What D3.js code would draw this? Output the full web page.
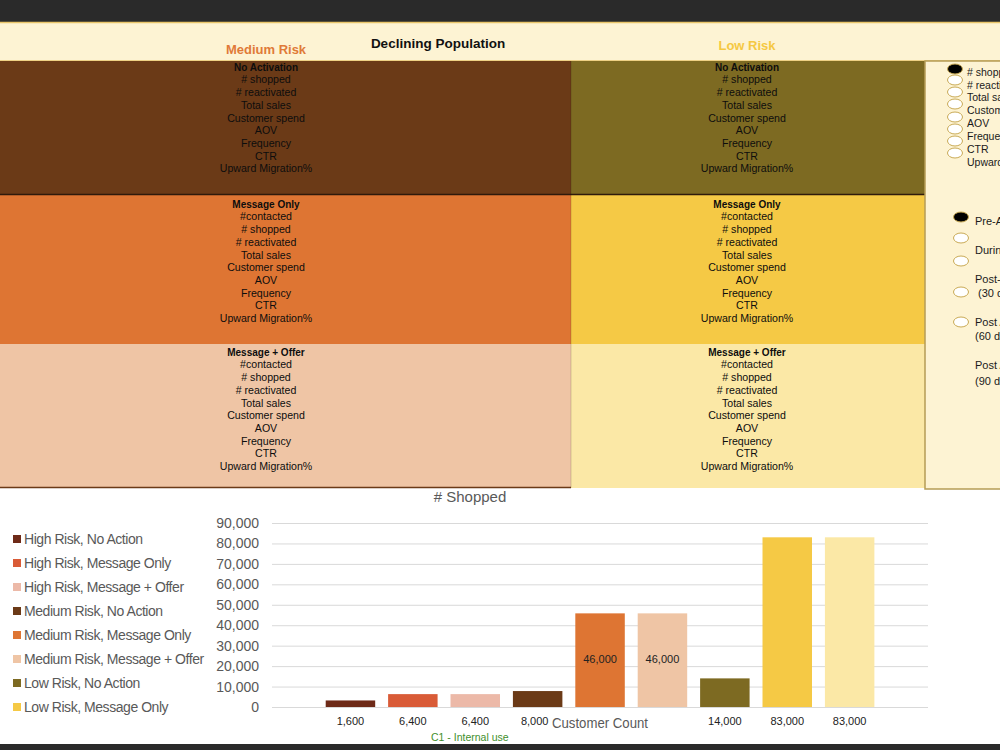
<!DOCTYPE html>
<html>
<head>
<meta charset="utf-8">
<script src="https://cdn.jsdelivr.net/npm/d3@7"></script>
<style>
  html, body { margin: 0; padding: 0; background: #ffffff; }
  svg { display: block; }
  text { font-family: "Liberation Sans", Arial, Helvetica, sans-serif; }
</style>
</head>
<body>
<svg id="chart" width="1000" height="750"></svg>
<script>
// ---------- DATA ----------
const categories = [
  "High Risk, No Action", "High Risk, Message Only", "High Risk, Message + Offer",
  "Medium Risk, No Action", "Medium Risk, Message Only", "Medium Risk, Message + Offer",
  "Low Risk, No Action", "Low Risk, Message Only", "Low Risk, Message + Offer"
];
const shoppedValues = [3200, 6300, 6300, 7800, 45800, 45800, 14000, 83000, 83000];
const customerCountLabels = ["1,600", "6,400", "6,400", "8,000", "46,000", "46,000", "14,000", "83,000", "83,000"];
const insideLabelCategories = ["Medium Risk, Message Only", "Medium Risk, Message + Offer"];
const legendCategories = categories.slice(0, 8);
const barColors = ["#6e2a18", "#d95b37", "#ecb9a8", "#6b3a17", "#de7533", "#efc5a5", "#7d6a22", "#f5c945", "#fbe8a6"];
const yTickValues = [0, 10000, 20000, 30000, 40000, 50000, 60000, 70000, 80000, 90000];

const headerTitle = "Declining Population";
const columnTitles = ["Medium Risk", "Low Risk"];
const rowTitles = ["No Activation", "Message Only", "Message + Offer"];
const rowMetrics = [
  ["# shopped", "# reactivated", "Total sales", "Customer spend", "AOV", "Frequency", "CTR", "Upward Migration%"],
  ["#contacted", "# shopped", "# reactivated", "Total sales", "Customer spend", "AOV", "Frequency", "CTR", "Upward Migration%"],
  ["#contacted", "# shopped", "# reactivated", "Total sales", "Customer spend", "AOV", "Frequency", "CTR", "Upward Migration%"]
];
const cellColors = [
  ["#6b3a17", "#7d6a22"],
  ["#de7533", "#f5c945"],
  ["#efc5a5", "#fbe8a6"]
];
const metricOptions = ["# shopped", "# reactivated", "Total sales", "Customer spend", "AOV", "Frequency", "CTR", "Upward Migration%"];
const periodOptions = [["Pre-Activation"], ["During"], ["Post-Activation", " (30 days)"], ["Post Activation", "(60 days)"], ["Post Activation", "(90 days)"]];

// ---------- DRAW ----------
const svg = d3.select("#chart");

// top dark bar & bottom dark bar
svg.append("rect").attr("x", 0).attr("y", 0).attr("width", 1000).attr("height", 22).attr("fill", "#2a2a2a");
svg.append("rect").attr("x", 0).attr("y", 744).attr("width", 1000).attr("height", 6).attr("fill", "#2a2a2a");

// header band
svg.append("rect").attr("x", 0).attr("y", 22).attr("width", 1000).attr("height", 39).attr("fill", "#fdf3d3");
svg.append("line").attr("x1", 0).attr("x2", 1000).attr("y1", 22.5).attr("y2", 22.5).attr("stroke", "#e9c56a").attr("stroke-width", 1.5);
svg.append("line").attr("x1", 0).attr("x2", 1000).attr("y1", 61).attr("y2", 61).attr("stroke", "#e9c56a").attr("stroke-width", 1.5);

svg.append("text").attr("x", 438).attr("y", 48).attr("text-anchor", "middle")
  .attr("font-size", 13.5).attr("font-weight", "bold").attr("fill", "#111").text(headerTitle);
const colCenters = [266, 747];
const colTitleColors = ["#e07a38", "#f5c842"];
const colTitleY = [54, 50];
columnTitles.forEach((t, i) => {
  svg.append("text").attr("x", colCenters[i]).attr("y", colTitleY[i]).attr("text-anchor", "middle")
    .attr("font-size", 13).attr("font-weight", "bold").attr("fill", colTitleColors[i]).text(t);
});

// grid cells
const colX = [0, 571, 925];
const rowY = [61, 195, 344, 488];
const rowTextStart = [67, 204, 352];
const lineStep = 12.7;
for (let r = 0; r < 3; r++) {
  for (let c = 0; c < 2; c++) {
    svg.append("rect").attr("x", colX[c]).attr("y", rowY[r])
      .attr("width", colX[c + 1] - colX[c]).attr("height", rowY[r + 1] - rowY[r])
      .attr("fill", cellColors[r][c]);
    const g = svg.append("g");
    g.append("text").attr("x", colCenters[c]).attr("y", rowTextStart[r]).attr("dy", "0.35em")
      .attr("text-anchor", "middle").attr("font-size", 10).attr("font-weight", "bold").attr("fill", "#0d0d0d")
      .text(rowTitles[r]);
    rowMetrics[r].forEach((m, k) => {
      g.append("text").attr("x", colCenters[c]).attr("y", rowTextStart[r] + (k + 1) * lineStep).attr("dy", "0.35em")
        .attr("text-anchor", "middle").attr("font-size", 10.6).attr("fill", "#0d0d0d").text(m);
    });
  }
}
// separators
svg.append("line").attr("x1", 0).attr("x2", 925).attr("y1", 194.5).attr("y2", 194.5).attr("stroke", "#2e1a0c").attr("stroke-width", 1.5);
svg.append("line").attr("x1", 0).attr("x2", 571).attr("y1", 487.5).attr("y2", 487.5).attr("stroke", "#6b3a17").attr("stroke-width", 1.5);
svg.append("line").attr("x1", 571).attr("x2", 571).attr("y1", 61).attr("y2", 488).attr("stroke", "#000").attr("stroke-opacity", 0.15).attr("stroke-width", 1);

// right panel
svg.append("rect").attr("x", 925).attr("y", 61).attr("width", 80).attr("height", 428)
  .attr("fill", "#fdf3d3").attr("stroke", "#b59c55").attr("stroke-width", 1.5);

const metricCircleY = [69, 80, 92, 104, 117, 129, 141, 153];
metricOptions.forEach((m, i) => {
  svg.append("ellipse").attr("cx", 955).attr("cy", metricCircleY[i]).attr("rx", 7.5).attr("ry", 5)
    .attr("fill", i === 0 ? "#000" : "#fff").attr("stroke", "#c9aa55").attr("stroke-width", 1);
  svg.append("text").attr("x", 967).attr("y", 72 + i * 12.9).attr("dy", "0.35em")
    .attr("font-size", 10.5).attr("fill", "#1a1a1a").text(m);
});

const periodCircleY = [217, 238, 261, 292, 322];
const periodTextY = [[221], [250], [279, 293], [322, 336], [365, 381]];
periodOptions.forEach((p, i) => {
  svg.append("ellipse").attr("cx", 961).attr("cy", periodCircleY[i]).attr("rx", 7.5).attr("ry", 5)
    .attr("fill", i === 0 ? "#000" : "#fff").attr("stroke", "#c9aa55").attr("stroke-width", 1);
});
periodOptions.forEach((p, i) => {
  p.forEach((line, k) => {
    svg.append("text").attr("x", 975).attr("y", periodTextY[i][k]).attr("dy", "0.35em")
      .attr("font-size", 11).attr("fill", "#1a1a1a").attr("xml:space", "preserve").text(line);
  });
});

// ---------- BAR CHART ----------
const x = d3.scaleBand().domain(categories).range([319.25, 880.85]).paddingInner(0.207).paddingOuter(0.1035);
const y = d3.scaleLinear().domain([0, 90000]).range([707, 523]);
const colorScale = d3.scaleOrdinal().domain(categories).range(barColors);

svg.append("text").attr("x", 470).attr("y", 497).attr("dy", "0.35em").attr("text-anchor", "middle")
  .attr("font-size", 15).attr("fill", "#595959").text("# Shopped");

const yAxis = d3.axisLeft(y).tickValues(yTickValues).tickFormat(d3.format(",")).tickSize(-656).tickPadding(13);
const yg = svg.append("g").attr("transform", "translate(272,0)").call(yAxis);
yg.select(".domain").remove();
yg.selectAll(".tick line").attr("stroke", "#d9d9d9").attr("stroke-width", 1);
yg.selectAll(".tick text").attr("font-size", 14).attr("fill", "#595959")
  .attr("font-family", "'Liberation Sans', Arial, sans-serif");

svg.append("g").selectAll("rect").data(categories).join("rect")
  .attr("x", d => x(d)).attr("width", x.bandwidth())
  .attr("y", (d, i) => y(shoppedValues[i])).attr("height", (d, i) => y(0) - y(shoppedValues[i]))
  .attr("fill", d => colorScale(d));

// customer count labels
svg.append("g").selectAll("text").data(categories).join("text")
  .attr("x", (d, i) => x(d) + x.bandwidth() / 2 - (i === 3 ? 3 : 0))
  .attr("y", d => insideLabelCategories.includes(d) ? 659 : 721)
  .attr("dy", "0.35em").attr("text-anchor", "middle").attr("font-size", 11).attr("fill", "#222")
  .text((d, i) => customerCountLabels[i]);

svg.append("text").attr("x", 552).attr("y", 723).attr("dy", "0.35em")
  .attr("font-size", 14).attr("textLength", 96).attr("lengthAdjust", "spacingAndGlyphs")
  .attr("fill", "#595959").text("Customer Count");

// legend
const legendY = [539, 563, 587, 611, 635, 659, 683, 707];
const lg = svg.append("g").selectAll("g").data(legendCategories).join("g")
  .attr("transform", (d, i) => `translate(0,${legendY[i]})`);
lg.append("rect").attr("x", 13).attr("y", -4).attr("width", 8).attr("height", 8).attr("fill", d => colorScale(d));
lg.append("text").attr("x", 24).attr("y", 0).attr("dy", "0.35em").attr("font-size", 14).attr("fill", "#595959")
  .attr("letter-spacing", -0.45).text(d => d);

// footer
svg.append("text").attr("x", 431).attr("y", 737).attr("dy", "0.35em").attr("font-size", 10.5)
  .attr("fill", "#3f8f2c").text("C1 - Internal use");
</script>
</body>
</html>
